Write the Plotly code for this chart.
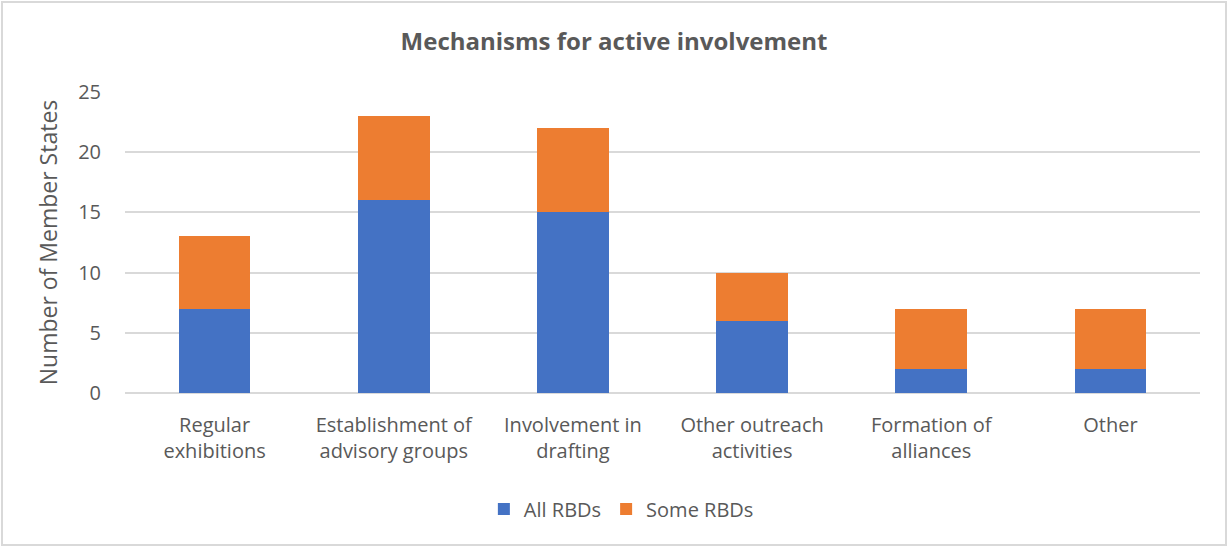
import plotly.graph_objects as go

categories = ["Regular<br>exhibitions", "Establishment of<br>advisory groups", "Involvement in<br>drafting",
              "Other outreach<br>activities", "Formation of<br>alliances", "Other"]
all_rbds = [7, 16, 15, 6, 2, 2]
some_rbds = [6, 7, 7, 4, 5, 5]
tick_vals = [0, 5, 10, 15, 20, 25]

W, H = 1228, 547
L, R, T, B = 125, 28, 92, 154
font = "Open Sans, Lato, sans-serif"
gray = "#595959"

fig = go.Figure()
fig.add_bar(x=categories, y=all_rbds, name="All RBDs", marker=dict(color="#4472C4", line=dict(width=0)))
fig.add_bar(x=categories, y=some_rbds, name="Some RBDs", marker=dict(color="#ED7D31", line=dict(width=0)))

pw, ph = W - L - R, H - T - B
fig.update_layout(
    width=W, height=H, barmode="stack", bargap=0.6,
    margin=dict(l=L, r=R, t=T, b=B, autoexpand=False),
    paper_bgcolor="white", plot_bgcolor="white",
    font=dict(family=font, color=gray, size=20),
    title=dict(text="<b>Mechanisms for active involvement</b>", x=0.5, xanchor="center", xref="container",
               y=1 - 42 / H, yanchor="middle", font=dict(size=24, color=gray, family=font)),
    xaxis=dict(showgrid=False, showline=False, ticks="", tickfont=dict(size=20, color=gray),
               ticklabelstandoff=18, automargin=False),
    yaxis=dict(range=[0, 25], tickvals=tick_vals, showgrid=True, gridcolor="#D9D9D9", gridwidth=2,
               zeroline=True, zerolinecolor="#D9D9D9", zerolinewidth=2, ticks="",
               tickfont=dict(size=20, color=gray), ticklabelstandoff=23, automargin=False,
               title=dict(text="Number of Member States", font=dict(size=23, color=gray), standoff=14)),
    legend=dict(orientation="h", x=0.506, xanchor="center", xref="container",
                y=-(509 - (T + ph)) / ph, yanchor="middle",
                font=dict(size=20, color=gray), traceorder="normal", itemwidth=30),
    shapes=[dict(type="rect", xref="paper", yref="paper",
                 x0=-(L - 2) / pw, x1=1 + (R - 2) / pw, y0=-(B - 2) / ph, y1=1 + (T - 2) / ph,
                 line=dict(color="#D9D9D9", width=2), layer="below")],
)
fig.write_html("out.html", config={"displayModeBar": False},
               post_script="document.body.style.margin='0';")
